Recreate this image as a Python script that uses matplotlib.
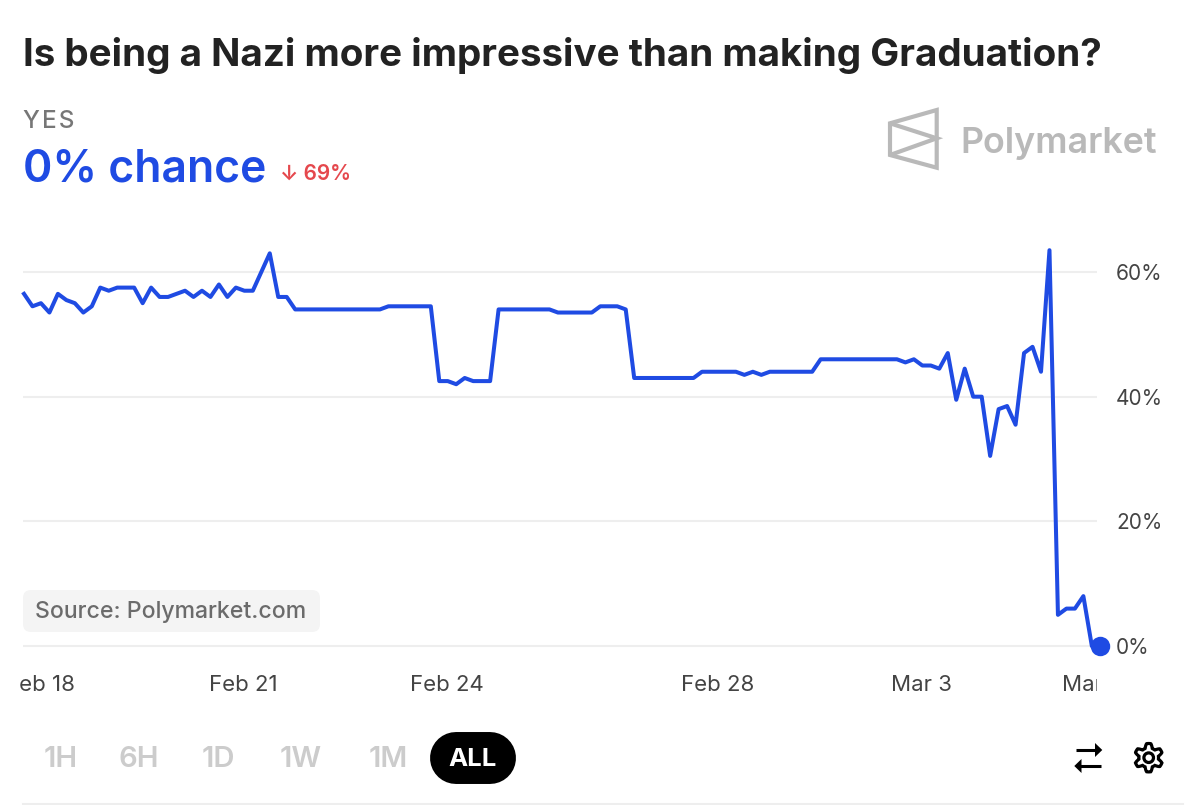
import matplotlib
matplotlib.use("Agg")
import matplotlib.pyplot as plt
import matplotlib.dates as mdates
from matplotlib.patches import Circle, FancyBboxPatch, Polygon
import numpy as np
from datetime import datetime, timedelta

plt.rcParams['font.family'] = ['Inter', 'DejaVu Sans']

BLUE = '#1f4be3'

# price every 3 hours
prices = [56.5, 54.5, 55, 53.5, 56.5, 55.5, 55, 53.5, 54.5, 57.5, 57, 57.5, 57.5, 57.5, 55, 57.5,
          56, 56, 56.5, 57, 56, 57, 56, 58, 56, 57.5, 57, 57, 60, 63, 56, 56,
          54, 54, 54, 54, 54, 54, 54, 54, 54, 54, 54,
          54.5, 54.5, 54.5, 54.5, 54.5, 54.5,
          42.5, 42.5, 42, 43, 42.5, 42.5, 42.5,
          54, 54, 54, 54, 54, 54, 54,
          53.5, 53.5, 53.5, 53.5, 53.5, 54.5, 54.5, 54.5, 54,
          43, 43, 43, 43, 43, 43, 43, 43,
          44, 44, 44, 44, 44, 43.5, 44, 43.5, 44, 44, 44, 44, 44, 44,
          46, 46, 46, 46, 46, 46, 46, 46, 46, 46,
          45.5, 46, 45, 45, 44.5, 47, 39.5, 44.5, 40, 40, 30.5, 38, 38.5, 35.5,
          47, 48, 44, 63.5, 5, 6, 6, 8, 0, 0]
y_ticks = [0, 20, 40, 60]
y_labels = ['0%', '20%', '40%', '60%']
x_tick_dates = [datetime(2025, 2, 18), datetime(2025, 2, 21), datetime(2025, 2, 24),
                datetime(2025, 2, 28), datetime(2025, 3, 3), datetime(2025, 3, 5, 12, 30)]
x_tick_labels = ['Feb 18', 'Feb 21', 'Feb 24', 'Feb 28', 'Mar 3', 'Mar 5']
ranges = ['1H', '6H', '1D', '1W', '1M']
range_x = [61, 139, 218, 301, 388]

W, H = 1200, 805
fig = plt.figure(figsize=(W / 100, H / 100), dpi=100, facecolor='white')

# pixel canvas for everything around the chart
bg = fig.add_axes([0, 0, 1, 1])
bg.set_xlim(0, W)
bg.set_ylim(H, 0)
bg.axis('off')

# chart axes: 0% at y=646, 67.8 px per day
left, right, bottom, top = 20, 1130, 646, 241
ax = fig.add_axes([left / W, 1 - bottom / H, (right - left) / W, (bottom - top) / H])
ax.patch.set_alpha(0)
feb21 = mdates.date2num(datetime(2025, 2, 21))
px_day = 67.8
ax.set_xlim(feb21 + (left - 243.5) / px_day, feb21 + (right - 243.5) / px_day)
ax.set_ylim(0, (bottom - top) / 6.233)
for s in ax.spines.values():
    s.set_visible(False)

start = datetime(2025, 2, 17, 18, 18)
times = [start + timedelta(hours=3 * i) for i in range(len(prices))]

ax.hlines(y_ticks, (23 - left) / (right - left), (1097 - left) / (right - left),
          transform=ax.get_yaxis_transform(), color='#eeeeee', lw=1.5, zorder=1, clip_on=False)
ax.plot(times, prices, color=BLUE, lw=2.9, zorder=3, clip_on=False)
ax.plot(times[-1], prices[-1], 'o', color=BLUE, ms=14, mew=0, zorder=4, clip_on=False)

ax.yaxis.tick_right()
ax.set_yticks(y_ticks)
ax.set_yticklabels(y_labels)
ax.set_xticks(x_tick_dates)
ax.set_xticklabels(x_tick_labels)
ax.tick_params(axis='both', length=0, labelcolor='#444444')
ax.tick_params(axis='y', pad=-10, labelsize=15)
ax.tick_params(axis='x', pad=21, labelsize=16)
for label in ax.get_xticklabels():
    label.set_clip_on(True)
    label.set_clip_box(matplotlib.transforms.Bbox.from_extents(20, 0, 1096.5, H))

# header
bg.text(23, 55, 'Is being a Nazi more impressive than making Graduation?', fontsize=27.8,
        fontweight='bold', color='#222222', va='center', ha='left')
bg.text(23, 122, 'Y\u200aE\u200aS', fontsize=17.5, fontweight='medium', color='#777777', va='center', ha='left')
bg.text(23, 169, '0% chance', fontsize=32, fontweight='semibold', color=BLUE, va='center', ha='left')
bg.text(280, 174, '\u2193 69%', fontsize=15, fontweight='semibold', color='#e5484d', va='center', ha='left')

# logo
logo = dict(fill=False, edgecolor='#b9b9b9', lw=3, joinstyle='miter')
bg.add_patch(Polygon([(936.7, 110), (890, 123.3), (890, 155), (936.7, 167.7)], closed=True, **logo))
bg.add_patch(Polygon([(890, 123.3), (936.7, 138.3), (890, 155)], closed=False, **logo))
bg.text(960, 143, 'Polymarket', fontsize=25.8, fontweight='semibold', color='#b9b9b9', va='center', ha='left')

# source badge
bg.add_patch(FancyBboxPatch((29, 596), 285, 30, boxstyle='round,pad=6,rounding_size=8', fc='#f4f4f4', ec='none'))
bg.text(35, 612, 'Source: Polymarket.com', fontsize=16.6, fontweight='medium', color='#6b6b6b', va='center', ha='left')

# range buttons
for name, x in zip(ranges, range_x):
    bg.text(x, 759, name, fontsize=21, fontweight='semibold', color='#cccccc', va='center', ha='center')
bg.plot([456, 490], [758, 758], color='black', lw=37.4, solid_capstyle='round')
bg.text(473, 759, 'ALL', fontsize=18.5, fontweight='bold', color='white', va='center', ha='center')

# swap arrows
bg.plot([1075.7, 1097], [750, 750], color='black', lw=2.2, solid_capstyle='butt')
bg.add_patch(Polygon([(1102.3, 750), (1095, 743), (1095, 757)], fc='black', ec='none'))
bg.plot([1079, 1101], [766, 766], color='black', lw=2.2, solid_capstyle='butt')
bg.add_patch(Polygon([(1074.3, 766), (1081.5, 759), (1081.5, 773)], fc='black', ec='none'))

# gear
t = np.linspace(0, 2 * np.pi, 240)
r = 12 + 2.2 * np.clip(1.6 * np.cos(6 * t), -1, 1)
bg.add_patch(Polygon(np.c_[1148.7 + r * np.sin(t), 757.7 - r * np.cos(t)], fill=False, ec='black', lw=2.3))
bg.add_patch(Circle((1148.7, 757.7), 4.8, fill=False, ec='black', lw=2.3))

# bottom rule
bg.plot([23, 1183], [804, 804], color='#eeeeee', lw=1.5)

fig.savefig('out.png', dpi=100)
